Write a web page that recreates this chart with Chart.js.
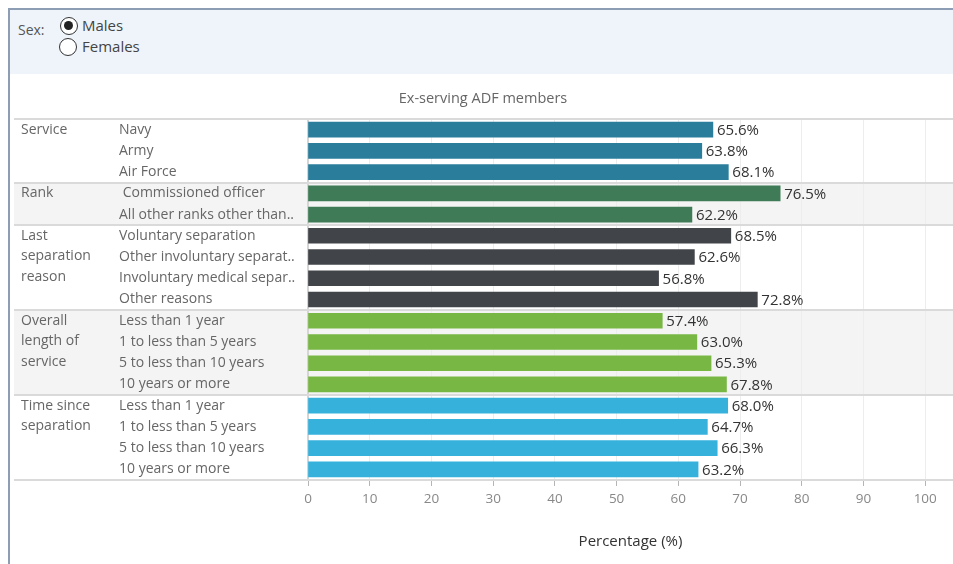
<!DOCTYPE html>
<html>
<head>
<meta charset="utf-8">
<script src="https://cdn.jsdelivr.net/npm/chart.js@4/dist/chart.umd.min.js"></script>
<style>
  html, body { margin:0; padding:0; background:#fff; }
  body { width:953px; height:564px; position:relative; overflow:hidden; font-family:"Open Sans", sans-serif; }
  #cv { position:absolute; left:0; top:0; }
  #frameL { position:absolute; left:8px; top:8px; width:2px; height:556px; background:#8d9db3; }
  #frameT { position:absolute; left:8px; top:8px; width:945px; height:2px; background:#8d9db3; }
  #header { position:absolute; left:10px; top:10px; width:943px; height:64px; background:#eef4fa; }
  .txt { position:absolute; font-size:14px; color:#555; white-space:nowrap; line-height:18px; }
  .radio { position:absolute; width:18px; height:18px; border:1.5px solid #333; border-radius:50%; background:#fff; box-sizing:border-box; }
  .radio.on::after { content:""; position:absolute; left:3px; top:3px; width:9px; height:9px; border-radius:50%; background:#222; }
  #title { position:absolute; top:88px; font-size:14.5px; color:#666; text-align:center; }
</style>
</head>
<body>
<canvas id="cv" width="953" height="564"></canvas>
<div id="frameL"></div>
<div id="frameT"></div>
<div id="header">
  <div class="txt" style="left:8px; top:11px;">Sex:</div>
  <div class="radio on" style="left:50px; top:7px;"></div>
  <div class="txt" style="left:72px; top:6px; color:#444; font-size:15px;">Males</div>
  <div class="radio" style="left:49px; top:28px;"></div>
  <div class="txt" style="left:72px; top:27px; color:#444; font-size:15px;">Females</div>
</div>
<div id="title" style="left:296px; width:374px;">Ex-serving ADF members</div>
<script>
// ---- data ----
const categories = [
  "Navy", "Army", "Air Force",
  " Commissioned officer", "All other ranks other than..",
  "Voluntary separation", "Other involuntary separat..", "Involuntary medical separ..", "Other reasons",
  "Less than 1 year", "1 to less than 5 years", "5 to less than 10 years", "10 years or more",
  "Less than 1 year", "1 to less than 5 years", "5 to less than 10 years", "10 years or more"
];
const values = [65.6, 63.8, 68.1, 76.5, 62.2, 68.5, 62.6, 56.8, 72.8, 57.4, 63.0, 65.3, 67.8, 68.0, 64.7, 66.3, 63.2];
const groupNames = [
  ["Service"],
  ["Rank"],
  ["Last", "separation", "reason"],
  ["Overall", "length of", "service"],
  ["Time since", "separation"]
];
const groupSizes = [3, 2, 4, 4, 4];
const xTicks = [0, 10, 20, 30, 40, 50, 60, 70, 80, 90, 100];

// ---- styles ----
const groupColors = ["#2a7e9b", "#3e7b56", "#414449", "#79b745", "#35b1dc"];
const groupShaded = [false, true, false, true, false];

const barColors = [];
groupSizes.forEach((n, g) => { for (let i = 0; i < n; i++) barColors.push(groupColors[g]); });

const FONT = '"Open Sans", sans-serif';

const sectionPlugin = {
  id: 'sections',
  beforeDraw(chart) {
    const {ctx} = chart;
    const y = chart.scales.y;
    const rowH = y.getPixelForValue(1) - y.getPixelForValue(0);
    ctx.save();
    let idx = 0;
    const bounds = [];
    groupSizes.forEach((n, g) => {
      const top = y.getPixelForValue(idx) - rowH / 2;
      const bot = y.getPixelForValue(idx + n - 1) + rowH / 2;
      bounds.push([top, bot]);
      if (groupShaded[g]) {
        ctx.fillStyle = '#f4f4f4';
        ctx.fillRect(14, top, chart.width - 14, bot - top);
      }
      idx += n;
    });
    ctx.restore();
    chart.$bounds = bounds;
  },
  afterDatasetsDraw(chart) {
    const {ctx} = chart;
    const y = chart.scales.y;
    const meta = chart.getDatasetMeta(0);
    ctx.save();
    // separators
    ctx.strokeStyle = '#dadada';
    ctx.lineWidth = 2;
    const lines = [chart.$bounds[0][0]].concat(chart.$bounds.map(b => b[1]));
    lines.forEach(ly => {
      ctx.beginPath();
      ctx.moveTo(14, Math.round(ly));
      ctx.lineTo(chart.width, Math.round(ly));
      ctx.stroke();
    });
    // value labels
    ctx.font = '15px ' + FONT;
    ctx.fillStyle = '#333';
    ctx.textBaseline = 'middle';
    ctx.textAlign = 'left';
    meta.data.forEach((bar, i) => {
      ctx.fillText(values[i].toFixed(1) + '%', bar.x + 4, bar.y + 1);
    });
    // group labels
    ctx.font = '14px ' + FONT;
    ctx.fillStyle = '#666';
    let idx = 0;
    groupSizes.forEach((n, g) => {
      const y0 = y.getPixelForValue(idx);
      groupNames[g].forEach((line, k) => {
        ctx.fillText(line, 21, y0 + k * 20.5);
      });
      idx += n;
    });
    ctx.restore();
  }
};

new Chart(document.getElementById('cv'), {
  type: 'bar',
  data: {
    labels: categories,
    datasets: [{
      data: values,
      backgroundColor: barColors,
      borderWidth: 0,
      barThickness: 15
    }]
  },
  options: {
    indexAxis: 'y',
    responsive: false,
    animation: false,
    layout: { padding: { left: 119, top: 119, right: 0, bottom: 0 } },
    plugins: { legend: { display: false }, tooltip: { enabled: false }, title: { display: false } },
    scales: {
      x: {
        min: 0,
        max: 104.5,
        afterBuildTicks(scale) { scale.ticks = xTicks.map(v => ({value: v})); },
        afterFit(scale) { scale.height = 84; },
        grid: { color: '#ededed', lineWidth: 1, tickColor: '#b5b5b5', tickLength: 6 },
        border: { display: false },
        ticks: { color: '#888', font: { family: FONT, size: 13.5 }, padding: 5, maxRotation: 0 },
        title: { display: true, text: 'Percentage (%)', color: '#333', font: { family: FONT, size: 15 }, padding: { top: 4, bottom: 13 } }
      },
      y: {
        afterFit(scale) { scale.width = 189; },
        grid: { display: false },
        border: { display: true, color: '#d5d5d5', width: 2 },
        ticks: { color: '#666', font: { family: FONT, size: 14 }, crossAlign: 'far', padding: 0, autoSkip: false }
      }
    }
  },
  plugins: [sectionPlugin]
});
</script>
</body>
</html>
